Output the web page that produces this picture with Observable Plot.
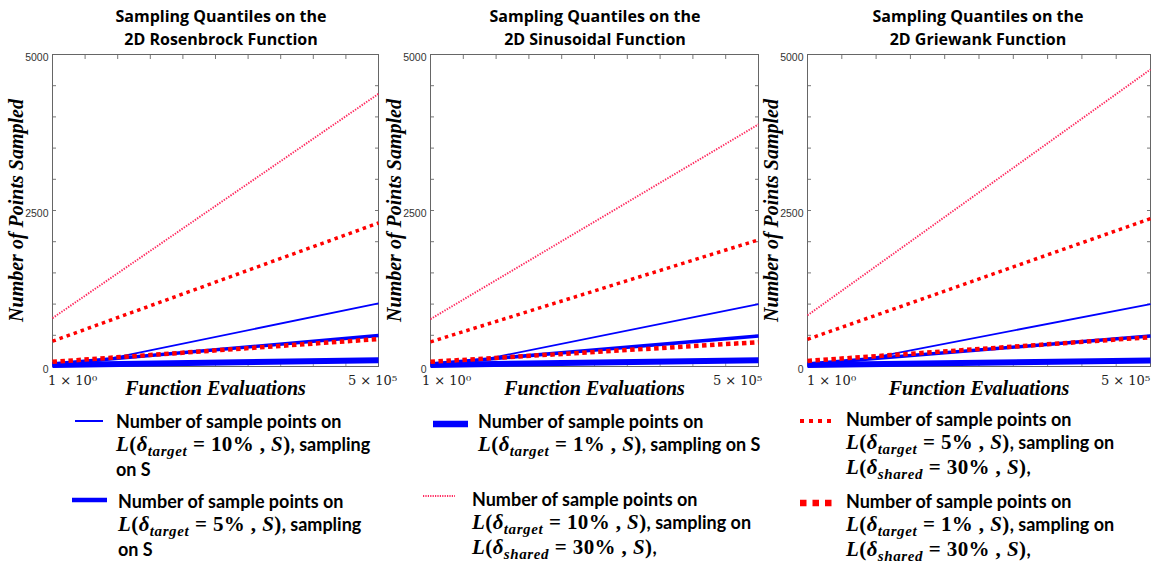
<!DOCTYPE html>
<html><head><meta charset="utf-8">
<script src="https://cdn.jsdelivr.net/npm/d3@7"></script>
<script src="https://cdn.jsdelivr.net/npm/@observablehq/plot@0.6"></script>
<style>
body{margin:0;background:#fff;width:1153px;height:566px;position:relative;overflow:hidden;font-family:"Open Sans",sans-serif}
.title{position:absolute;width:340px;text-align:center;font-weight:700;font-size:16px;line-height:23px;color:#000}
.panel{position:absolute;top:0}
.leg{position:absolute;font-family:Lato,"Open Sans",sans-serif;font-weight:700;font-size:18px;line-height:23px;color:#000;white-space:nowrap}
.m{font-family:"Liberation Serif",serif;font-weight:700;font-size:21px;letter-spacing:0.4px}
.i{font-style:italic}
.sub{font-family:"Liberation Serif",serif;font-style:italic;font-weight:700;font-size:15px;letter-spacing:0.6px;position:relative;top:5px}
.sw{position:absolute}
</style></head><body>
<script>
// ---------- data ----------
const panelNames = ["Rosenbrock", "Sinusoidal", "Griewank"];
const titleLine1 = "Sampling Quantiles on the";
const xTickValues = [1, 500000];
const xTickLabels = ["1 × 10⁰", "5 × 10⁵"];
const yTickValues = [0, 2500, 5000];
const xLabel = "Function Evaluations";
const yLabel = "Number of Points Sampled";

const seriesNames = ["blue10", "blue5", "blue1", "pink10", "red5", "red1"];
const xBlue10 = [1, 75000, 500000];
const xOther = [1, 500000];
// values per panel: [Rosenbrock, Sinusoidal, Griewank]
const blue10 = [[20, 100, 1010], [20, 100, 1000], [20, 100, 1000]];
const blue5  = [[40, 495], [40, 490], [40, 490]];
const blue1  = [[25, 100], [25, 100], [25, 95]];
const pink10 = [[775, 4370], [760, 3880], [820, 4760]];
const red5   = [[405, 2300], [395, 2030], [435, 2370]];
const red1   = [[75, 440], [75, 390], [90, 470]];

// legend
const legendTargets = ["10%", "5%", "1%", "10%", "5%", "1%"];
const legendShared  = [null, null, null, "30%", "30%", "30%"];

// ---------- styles ----------
const seriesStroke = ["#0000ff", "#0000ff", "#0000ff", "#ff2a5f", "#ff0000", "#ff0000"];
const seriesWidth  = [1.8, 3.5, 6, 1.9, 3.5, 4.5];
const seriesDash   = [null, null, null, "1.4,1.3", "3.5,4", "4.5,3.5"];
const seriesValues = [blue10, blue5, blue1, pink10, red5, red1];
const seriesX      = [xBlue10, xOther, xOther, xOther, xOther, xOther];

const frames = [{left: 52, right: 378}, {left: 430, right: 758}, {left: 807, right: 1150}];
const titleCenters = [221, 595, 978];
const xTickDx = [[20, -6], [16, -21], [24, -25]];

const mL = 52, mR = 14, mT = 54, mB = 32, frameH = 312;

panelNames.forEach((name, p) => {
  const f = frames[p];
  const marks = [];
  // minor frame ticks (drawn inward)
  marks.push(Plot.axisY({anchor: "left", ticks: d3.range(500, 5000, 500), tickSize: 4, dx: 4, text: null, label: null, stroke: "#777"}));
  marks.push(Plot.axisY({anchor: "right", ticks: d3.range(500, 5000, 500), tickSize: 4, dx: -4, text: null, label: null, stroke: "#777"}));
  marks.push(Plot.axisX({anchor: "top", ticks: d3.range(50000, 500000, 50000), tickSize: 4, dy: 4, text: null, label: null, stroke: "#777"}));
  marks.push(Plot.axisX({anchor: "bottom", ticks: d3.range(50000, 500000, 50000), tickSize: 3, dy: -3, text: null, label: null, stroke: "#999"}));
  // y tick labels + label
  marks.push(Plot.axisY({anchor: "left", ticks: yTickValues, tickFormat: d => String(d), tickSize: 0, tickPadding: 4, dy: 3,
    fontFamily: "Liberation Sans", fontSize: 10.5, fill: "#333", label: null}));
  marks.push(Plot.axisY({anchor: "left", ticks: [], label: yLabel, labelAnchor: "center", labelArrow: "none", labelOffset: 44,
    fontFamily: "Liberation Serif", fontStyle: "italic", fontWeight: "bold", fontSize: 20, fill: "#000"}));
  // x tick labels
  xTickValues.forEach((v, i) => {
    marks.push(Plot.axisX({anchor: "bottom", ticks: [v], tickFormat: () => xTickLabels[i], tickSize: 0, tickPadding: 9,
      dx: xTickDx[p][i], fontFamily: "DejaVu Serif", fontSize: 13, fill: "#222", label: null}));
  });
  marks.push(Plot.axisX({anchor: "bottom", ticks: [], label: xLabel, labelAnchor: "center", labelArrow: "none", labelOffset: 28,
    fontFamily: "Liberation Serif", fontStyle: "italic", fontWeight: "bold", fontSize: 20, fill: "#000"}));
  marks.push(Plot.frame({stroke: "#666"}));
  // series
  seriesNames.forEach((s, k) => {
    const pts = seriesX[k].map((x, j) => ({x, y: seriesValues[k][p][j]}));
    marks.push(Plot.line(pts, {x: "x", y: "y", stroke: seriesStroke[k], strokeWidth: seriesWidth[k],
      strokeDasharray: seriesDash[k], strokeLinecap: "butt"}));
  });
  const svg = Plot.plot({
    width: mL + (f.right - f.left) + mR,
    height: mT + frameH + mB,
    marginLeft: mL, marginRight: mR, marginTop: mT, marginBottom: mB,
    x: {domain: [1, 500000]},
    y: {domain: [0, 5000]},
    style: {background: "transparent", overflow: "visible"},
    marks
  });
  svg.classList.add("panel");
  svg.style.left = (f.left - mL) + "px";
  document.body.appendChild(svg);

  const t = document.createElement("div");
  t.className = "title";
  t.style.left = (titleCenters[p] - 170) + "px";
  t.style.top = "5px";
  t.innerHTML = titleLine1 + "<br>2D " + name + " Function";
  document.body.appendChild(t);
});

// ---------- legend ----------
const legendBoxes = [
  {sx: 75, sw: 28, sy: 421, tx: 116, ty: 410},
  {sx: 72, sw: 35, sy: 500, tx: 118, ty: 490},
  {sx: 433, sw: 35, sy: 424, tx: 478, ty: 410},
  {sx: 423, sw: 32, sy: 496, tx: 472, ty: 488},
  {sx: 800, sw: 32, sy: 421, tx: 846, ty: 408},
  {sx: 800, sw: 32, sy: 503, tx: 846, ty: 490}
];
const legendSwatchWidth = [2, 4.5, 6.5, 1.8, 4, 6.5];
const legendSwatchDash = [null, null, null, "1.2,1.2", "4,5", "6.5,6"];

function mathL(sub, val) {
  return `<span class="m i">L</span><span class="m">(</span><span class="m i">δ</span><span class="sub">${sub}</span><span class="m">&nbsp;=&nbsp;${val} , </span><span class="m i">S</span><span class="m">)</span>`;
}
legendTargets.forEach((tg, k) => {
  const b = legendBoxes[k];
  const sv = d3.create("svg").attr("class", "sw").attr("width", b.sw).attr("height", 10)
    .style("left", b.sx + "px").style("top", (b.sy - 5) + "px");
  sv.append("line").attr("x1", 0).attr("x2", b.sw).attr("y1", 5).attr("y2", 5)
    .attr("stroke", seriesStroke[k]).attr("stroke-width", legendSwatchWidth[k])
    .attr("stroke-dasharray", legendSwatchDash[k]);
  document.body.appendChild(sv.node());
  const d = document.createElement("div");
  d.className = "leg";
  d.style.left = b.tx + "px";
  d.style.top = b.ty + "px";
  let html = "Number of sample points on<br>" + mathL("target", tg);
  if (legendShared[k] === null) {
    html += tg === "1%" ? ", sampling on S" : ", sampling<br>on S";
  } else {
    html += ", sampling on<br>" + mathL("shared", legendShared[k]) + ",";
  }
  d.innerHTML = html;
  document.body.appendChild(d);
});
</script>
</body></html>
